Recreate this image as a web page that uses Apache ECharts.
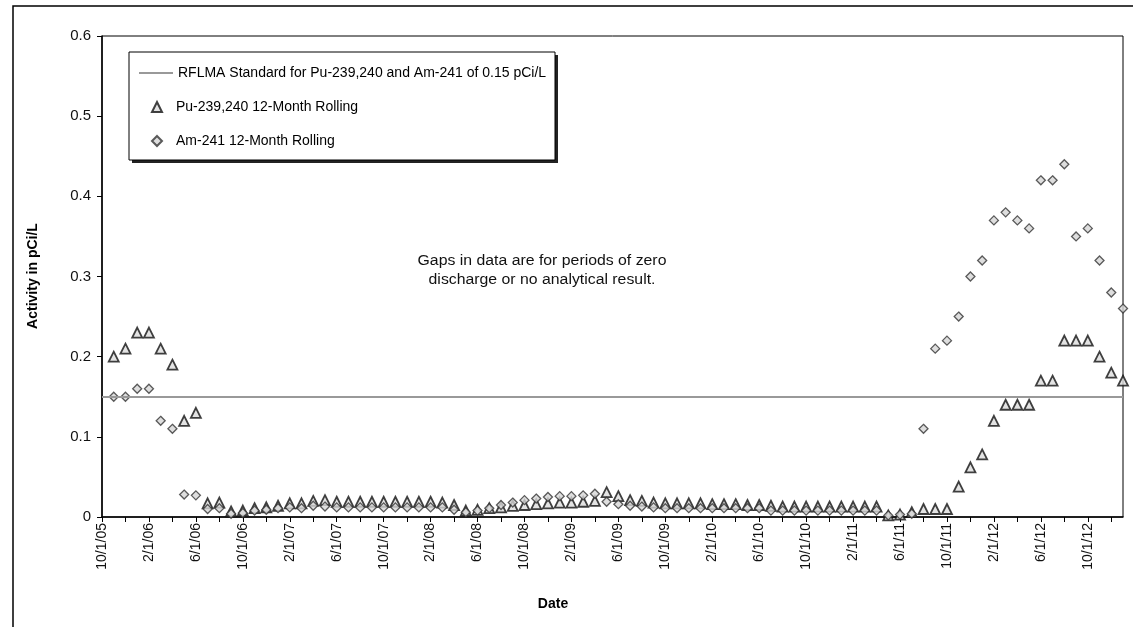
<!DOCTYPE html>
<html>
<head>
<meta charset="utf-8">
<script src="https://cdn.jsdelivr.net/npm/echarts@6/dist/echarts.min.js"></script>
<style>
html,body{margin:0;padding:0;background:#fff;}
#chart{width:1133px;height:627px;}
</style>
</head>
<body>
<div id="chart"></div>
<script>
// Monthly categories (first of month)
const categories = [
 '10/1/05','11/1/05','12/1/05',
 '1/1/06','2/1/06','3/1/06','4/1/06','5/1/06','6/1/06','7/1/06','8/1/06','9/1/06','10/1/06','11/1/06','12/1/06',
 '1/1/07','2/1/07','3/1/07','4/1/07','5/1/07','6/1/07','7/1/07','8/1/07','9/1/07','10/1/07','11/1/07','12/1/07',
 '1/1/08','2/1/08','3/1/08','4/1/08','5/1/08','6/1/08','7/1/08','8/1/08','9/1/08','10/1/08','11/1/08','12/1/08',
 '1/1/09','2/1/09','3/1/09','4/1/09','5/1/09','6/1/09','7/1/09','8/1/09','9/1/09','10/1/09','11/1/09','12/1/09',
 '1/1/10','2/1/10','3/1/10','4/1/10','5/1/10','6/1/10','7/1/10','8/1/10','9/1/10','10/1/10','11/1/10','12/1/10',
 '1/1/11','2/1/11','3/1/11','4/1/11','5/1/11','6/1/11','7/1/11','8/1/11','9/1/11','10/1/11','11/1/11','12/1/11',
 '1/1/12','2/1/12','3/1/12','4/1/12','5/1/12','6/1/12','7/1/12','8/1/12','9/1/12','10/1/12','11/1/12','12/1/12',
 '1/1/13'
];

const standardValue = 0.15;

// Pu-239,240 12-Month Rolling (pCi/L)
const puRolling = [
 null,0.20,0.21,
 0.23,0.23,0.21,0.19,0.12,0.13,0.017,0.018,0.007,0.008,0.011,0.012,
 0.014,0.017,0.017,0.020,0.021,0.019,0.019,0.019,0.019,0.019,0.019,0.019,
 0.019,0.019,0.018,0.015,0.008,0.009,0.011,0.012,0.014,0.015,0.016,0.017,
 0.018,0.018,0.019,0.020,0.031,0.026,0.021,0.020,0.018,0.017,0.017,0.017,
 0.017,0.016,0.016,0.016,0.015,0.015,0.014,0.013,0.013,0.013,0.013,0.013,
 0.013,0.013,0.013,0.013,0.002,0.003,0.006,0.010,0.010,0.010,0.038,0.062,
 0.078,0.12,0.14,0.14,0.14,0.17,0.17,0.22,0.22,0.22,0.20,0.18,
 0.17
];

// Am-241 12-Month Rolling (pCi/L)
const amRolling = [
 null,0.15,0.15,
 0.16,0.16,0.12,0.11,0.028,0.027,0.010,0.011,0.004,0.005,0.008,0.009,
 0.011,0.012,0.011,0.014,0.013,0.012,0.012,0.012,0.012,0.012,0.012,0.012,
 0.012,0.012,0.012,0.009,0.006,0.008,0.011,0.015,0.018,0.021,0.023,0.025,
 0.026,0.026,0.027,0.029,0.019,0.016,0.014,0.013,0.012,0.011,0.011,0.011,
 0.011,0.011,0.011,0.011,0.011,0.011,0.008,0.008,0.008,0.008,0.008,0.008,
 0.008,0.008,0.008,0.008,0.002,0.003,0.004,0.11,0.21,0.22,0.25,0.30,
 0.32,0.37,0.38,0.37,0.36,0.42,0.42,0.44,0.35,0.36,0.32,0.28,
 0.26
];

const yTicks = [0, 0.1, 0.2, 0.3, 0.4, 0.5, 0.6];

const seriesNames = [
  'RFLMA Standard for Pu-239,240 and Am-241 of 0.15 pCi/L',
  'Pu-239,240 12-Month Rolling',
  'Am-241 12-Month Rolling'
];

const FONT = '"Liberation Sans", Arial, sans-serif';
const chart = echarts.init(document.getElementById('chart'), null, {renderer: 'canvas'});

const triStyle = {color: '#dcdcdc', borderColor: '#111', borderWidth: 1.8};
const diaStyle = {color: '#d6d6d6', borderColor: '#333', borderWidth: 1.3};

chart.setOption({
  backgroundColor: '#ffffff',
  animation: false,
  grid: {
    left: 102, right: 10, top: 36, bottom: 110,
    show: true, borderColor: '#000', borderWidth: 1, backgroundColor: '#fff'
  },
  legend: [
    {
      orient: 'vertical', left: 134, top: 61,
      itemWidth: 34, itemHeight: 2, icon: 'rect',
      textStyle: {fontFamily: FONT, fontSize: 14, color: '#000', lineHeight: 14},
      data: [{name: seriesNames[0], itemStyle: {color: '#999'}}]
    },
    {
      orient: 'vertical', left: 146, top: 95,
      itemWidth: 10, itemHeight: 10, itemGap: 20,
      textStyle: {fontFamily: FONT, fontSize: 14, color: '#000', lineHeight: 14, padding: [0, 0, 0, 9]},
      data: [{name: seriesNames[1], icon: 'triangle'}, {name: seriesNames[2], icon: 'diamond'}]
    }
  ],
  xAxis: {
    type: 'category',
    data: categories,
    boundaryGap: false,
    axisLine: {lineStyle: {color: '#000', width: 1.5}},
    axisTick: {show: true, inside: false, length: 5, interval: 1, lineStyle: {color: '#000'}},
    axisLabel: {interval: 3, rotate: 90, margin: 6, fontFamily: FONT, fontSize: 14, color: '#111'},
    splitLine: {show: false}
  },
  yAxis: {
    type: 'value',
    min: 0, max: 0.6, interval: 0.1,
    axisLine: {show: true, lineStyle: {color: '#000', width: 1.5}},
    axisTick: {show: true, inside: false, length: 5, lineStyle: {color: '#000'}},
    axisLabel: {margin: 11, fontFamily: FONT, fontSize: 15, color: '#111',
      formatter: function (v) { const t = yTicks.find(t => Math.abs(t - v) < 1e-9); return String(t !== undefined ? t : v); }},
    splitLine: {show: false}
  },
  series: [
    {
      name: seriesNames[0],
      type: 'line',
      data: [],
      symbol: 'none',
      color: '#999',
      lineStyle: {color: '#999', width: 2},
      markLine: {
        silent: true, symbol: 'none', animation: false,
        label: {show: false},
        lineStyle: {color: '#999', width: 2, type: 'solid'},
        data: [{yAxis: standardValue}]
      },
      z: 1
    },
    {
      name: seriesNames[1],
      type: 'scatter',
      data: puRolling,
      symbol: 'triangle',
      symbolSize: 10,
      itemStyle: triStyle,
      z: 3
    },
    {
      name: seriesNames[2],
      type: 'scatter',
      data: amRolling,
      symbol: 'diamond',
      symbolSize: 9,
      itemStyle: diaStyle,
      z: 4
    }
  ],
  graphic: [
    {type: 'polyline', shape: {points: [[13, 627], [13, 6], [1133, 6]]},
     style: {stroke: '#000', lineWidth: 1.5, fill: null}, z: 0},
    {type: 'rect', shape: {x: 132, y: 55, width: 426, height: 108},
     style: {fill: '#222', stroke: null}, z: 1},
    {type: 'rect', shape: {x: 129, y: 52, width: 426, height: 108},
     style: {fill: '#fff', stroke: '#000', lineWidth: 1}, z: 1},
    {type: 'text', z: 5, x: 542, y: 252, scaleX: 1.13,
     style: {x: 0, y: 0, text: 'Gaps in data are for periods of zero\ndischarge or no analytical result.',
       textAlign: 'center', font: '14px ' + FONT, fill: '#111', lineHeight: 19}},
    {type: 'text', z: 5, x: 553, y: 604,
     style: {x: 0, y: 0, text: 'Date', textAlign: 'center', textVerticalAlign: 'middle',
       font: 'bold 14px ' + FONT, fill: '#000'}},
    {type: 'text', z: 5, x: 33, y: 276, rotation: Math.PI / 2,
     style: {x: 0, y: 0, text: 'Activity in pCi/L', textAlign: 'center', textVerticalAlign: 'middle',
       font: 'bold 14px ' + FONT, fill: '#000'}}
  ]
});
</script>
</body>
</html>
